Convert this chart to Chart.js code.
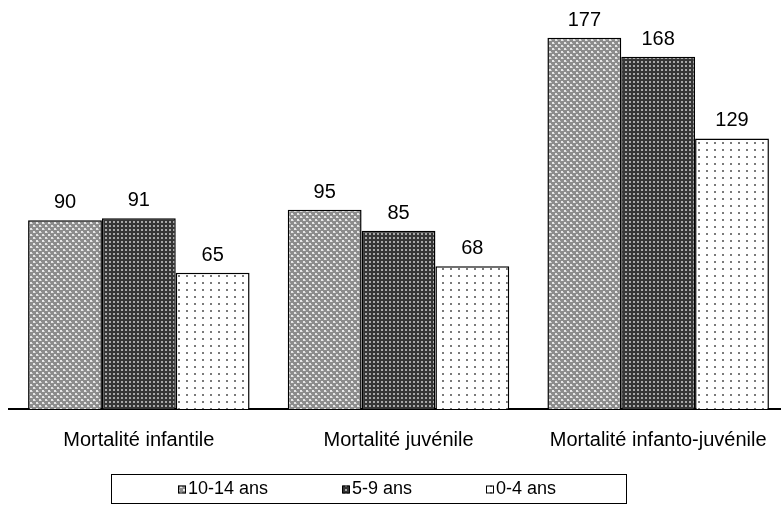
<!DOCTYPE html>
<html>
<head>
<meta charset="utf-8">
<script src="https://cdn.jsdelivr.net/npm/chart.js@4.4.0/dist/chart.umd.min.js"></script>
<style>
  html, body { margin: 0; padding: 0; background: #fff; overflow: hidden; }
  #wrap { width: 781px; height: 514px; position: relative; overflow: hidden; }
</style>
</head>
<body>
<div id="wrap"><canvas id="chart" width="788" height="514"></canvas></div>
<script>
// données
const categories = ['Mortalité infantile', 'Mortalité juvénile', 'Mortalité infanto-juvénile'];
const seriesNames = ['10-14 ans', '5-9 ans', '0-4 ans'];
const values1014 = [90, 95, 177];
const values59 = [91, 85, 168];
const values04 = [65, 68, 129];

const FONT = '"Liberation Sans", Arial, sans-serif';

// motifs de remplissage (hachures façon Excel)
function makePattern(kind) {
  const c = document.createElement('canvas');
  const g = c.getContext('2d');
  if (kind === 'cross') {
    c.width = 6; c.height = 6;
    g.fillStyle = '#8c8c8c'; g.fillRect(0, 0, 6, 6);
    g.fillStyle = '#e6e6e6';
    g.fillRect(0, 0, 2, 2); g.fillRect(3, 3, 2, 2);
    g.fillStyle = '#bdbdbd';
    g.fillRect(2, 1, 1, 1); g.fillRect(5, 4, 1, 1);
  } else if (kind === 'dark') {
    c.width = 4; c.height = 4;
    g.fillStyle = '#363636'; g.fillRect(0, 0, 4, 4);
    g.fillStyle = '#a8a8a8';
    g.fillRect(1, 1, 2, 2);
  } else {
    c.width = 8; c.height = 7;
    g.fillStyle = '#ffffff'; g.fillRect(0, 0, 8, 7);
    g.fillStyle = '#7a7a7a';
    g.fillRect(2, 2, 2, 2);
  }
  return document.getElementById('chart').getContext('2d').createPattern(c, 'repeat');
}

const patterns = [makePattern('cross'), makePattern('dark'), makePattern('dots')];

// valeurs au-dessus des barres
const valueLabels = {
  id: 'valueLabels',
  afterDatasetsDraw(chart) {
    const ctx = chart.ctx;
    ctx.save();
    ctx.font = '20px ' + FONT;
    ctx.fillStyle = '#000';
    ctx.textAlign = 'center';
    ctx.textBaseline = 'alphabetic';
    chart.data.datasets.forEach((ds, i) => {
      chart.getDatasetMeta(i).data.forEach((bar, j) => {
        ctx.fillText(String(ds.data[j]), bar.x, bar.y - 12);
      });
    });
    ctx.restore();
  }
};

// légende encadrée en bas
const boxedLegend = {
  id: 'boxedLegend',
  afterDraw(chart) {
    const ctx = chart.ctx;
    const left = 111, top = 474, w = 515, h = 29;
    const itemX = [178, 342, 486];
    ctx.save();
    ctx.strokeStyle = '#000';
    ctx.lineWidth = 1;
    ctx.strokeRect(left + 0.5, top + 0.5, w, h);
    ctx.font = '18px ' + FONT;
    ctx.textBaseline = 'middle';
    ctx.textAlign = 'left';
    chart.data.datasets.forEach((ds, i) => {
      const x = itemX[i], y = top + h / 2 + 1;
      ctx.fillStyle = ds.backgroundColor;
      ctx.fillRect(x, y - 4, 8, 8);
      ctx.strokeStyle = '#000';
      ctx.strokeRect(x + 0.5, y - 3.5, 7, 7);
      ctx.fillStyle = '#000';
      ctx.fillText(ds.label, x + 10, y);
    });
    ctx.restore();
  }
};

function makeDataset(label, data, fill) {
  return {
    label: label,
    data: data,
    backgroundColor: fill,
    borderColor: '#000',
    borderWidth: 1.5,
    borderSkipped: 'bottom',
    categoryPercentage: 0.853,
    barPercentage: 1
  };
}

new Chart(document.getElementById('chart'), {
  type: 'bar',
  data: {
    labels: categories,
    datasets: [
      makeDataset(seriesNames[0], values1014, patterns[0]),
      makeDataset(seriesNames[1], values59, patterns[1]),
      makeDataset(seriesNames[2], values04, patterns[2])
    ]
  },
  options: {
    responsive: false,
    animation: false,
    layout: { padding: { left: 9, right: 0, top: 0, bottom: 0 } },
    plugins: {
      legend: { display: false },
      tooltip: { enabled: false }
    },
    scales: {
      x: {
        grid: { display: false, drawTicks: false },
        border: { display: true, color: '#000', width: 2 },
        ticks: {
          color: '#000',
          font: { family: FONT, size: 20 },
          padding: 19,
          maxRotation: 0,
          autoSkip: false
        },
        afterFit(scale) { scale.height = 105; }
      },
      y: {
        display: false,
        min: 0,
        max: 195
      }
    }
  },
  plugins: [valueLabels, boxedLegend]
});
</script>
</body>
</html>
